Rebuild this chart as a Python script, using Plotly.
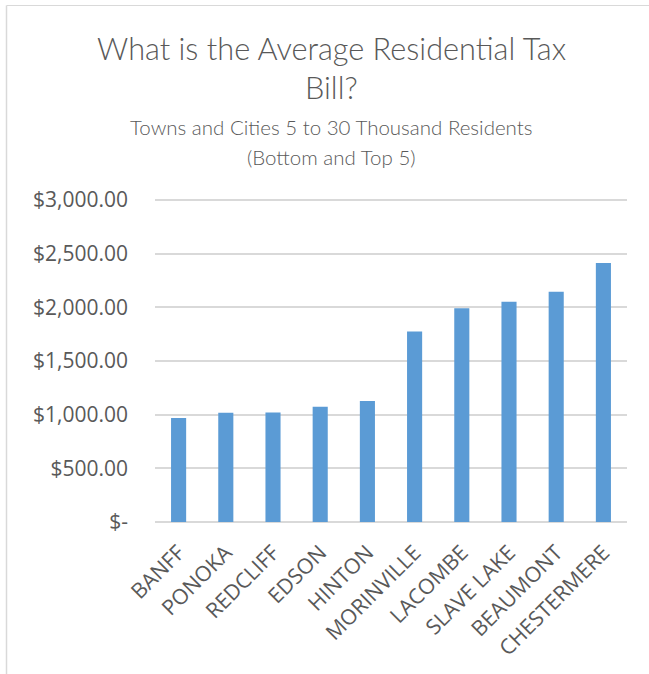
import plotly.graph_objects as go

# Average residential tax bill, bottom and top 5 towns/cities (5k-30k residents)
towns = ["BANFF", "PONOKA", "REDCLIFF", "EDSON", "HINTON",
         "MORINVILLE", "LACOMBE", "SLAVE LAKE", "BEAUMONT", "CHESTERMERE"]
avg_tax_bill = [968, 1019, 1021, 1074, 1127, 1775, 1991, 2052, 2146, 2413]

y_tick_values = [0, 500, 1000, 1500, 2000, 2500, 3000]
y_tick_labels = ["$-", "$500.00", "$1,000.00", "$1,500.00",
                 "$2,000.00", "$2,500.00", "$3,000.00"]

title_lines = ["What is the Average Residential Tax", "Bill?"]
subtitle_lines = ["Towns and Cities 5 to 30 Thousand Residents", "(Bottom and Top 5)"]

FONT = "Open Sans"
LIGHT_FONT = "Lato"
TEXT_GREY = "#595959"
GRID_GREY = "#d9d9d9"

W, H = 649, 674
# plot area: value 0 sits on row 522, value 3000 on row 200
ZERO_ROW, TOP_ROW = 522, 200
M_L, M_R, M_T = 155, 22, 194
M_B = H - ZERO_ROW
plot_h = H - M_T - M_B
plot_w = W - M_L - M_R
units_per_px = 3000 / (ZERO_ROW - TOP_ROW)
y_max = 3000 + (TOP_ROW - M_T) * units_per_px


def py(pix_y):
    """Pixel row -> paper y coordinate."""
    return (H - M_B - pix_y) / plot_h


def px(pix_x):
    """Pixel column -> paper x coordinate."""
    return (pix_x - M_L) / plot_w


fig = go.Figure(
    go.Bar(
        x=towns,
        y=avg_tax_bill,
        marker=dict(color="#5b9bd5", line=dict(width=0)),
        hovertemplate="%{x}: $%{y:,.2f}<extra></extra>",
    )
)

annotations = []
for text, y_pix, size in [(title_lines[0], 48, 30.7), (title_lines[1], 88, 30.7),
                          (subtitle_lines[0], 127, 20.5), (subtitle_lines[1], 157, 20.5)]:
    annotations.append(dict(
        text=text, xref="paper", yref="paper", x=px(331), y=py(y_pix),
        xanchor="center", yanchor="middle", showarrow=False,
        font=dict(family=LIGHT_FONT, size=size, color=TEXT_GREY, weight=300),
    ))

fig.update_layout(
    width=W, height=H,
    margin=dict(l=M_L, r=M_R, t=M_T, b=M_B, autoexpand=False),
    paper_bgcolor="white", plot_bgcolor="white",
    bargap=0.68,
    showlegend=False,
    annotations=annotations,
    shapes=[
        dict(type="line", xref="paper", yref="paper",
             x0=px(6.5), x1=px(700), y0=py(5.5), y1=py(5.5),
             line=dict(color=GRID_GREY, width=1)),
        dict(type="line", xref="paper", yref="paper",
             x0=px(6.5), x1=px(6.5), y0=py(5.5), y1=py(700),
             line=dict(color=GRID_GREY, width=1.5)),
    ],
    xaxis=dict(
        tickangle=-45,
        tickfont=dict(family=FONT, size=21.3, color=TEXT_GREY),
        showgrid=False, showline=False, ticks="",
        ticklabelstandoff=13,
        automargin=False,
    ),
    yaxis=dict(
        range=[0, y_max],
        tickvals=y_tick_values, ticktext=y_tick_labels,
        tickfont=dict(family=FONT, size=21, color=TEXT_GREY),
        showgrid=True, gridcolor=GRID_GREY, gridwidth=1.5,
        zeroline=True, zerolinecolor=GRID_GREY, zerolinewidth=1.5,
        showline=False, ticks="", ticklabelstandoff=26,
        automargin=False,
    ),
)

fig.write_html("out.html")
